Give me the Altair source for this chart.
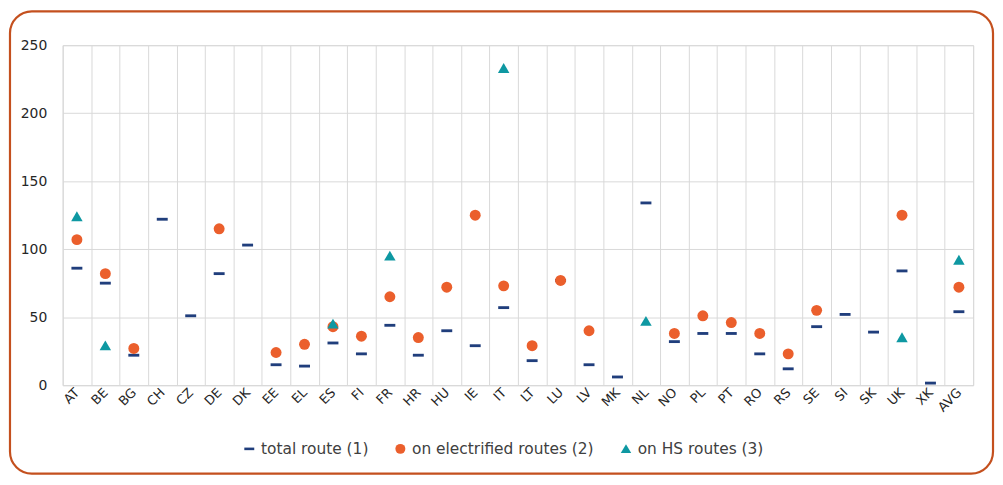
import altair as alt
import pandas as pd

categories = ["AT", "BE", "BG", "CH", "CZ", "DE", "DK", "EE", "EL", "ES", "FI", "FR", "HR", "HU", "IE",
              "IT", "LT", "LU", "LV", "MK", "NL", "NO", "PL", "PT", "RO", "RS", "SE", "SI", "SK", "UK",
              "XK", "AVG"]
total_route = [86, 75, 22, 122, 51, 82, 103, 15, 14, 31, 23, 44, 22, 40, 29,
               57, 18, 77, 15, 6, 134, 32, 38, 38, 23, 12, 43, 52, 39, 84,
               1.5, 54]
electrified = [107, 82, 27, None, None, 115, None, 24, 30, 43, 36, 65, 35, 72, 125,
               73, 29, 77, 40, None, None, 38, 51, 46, 38, 23, 55, None, None, 125,
               None, 72]
hs_routes = [124, 29, None, None, None, None, None, None, None, 45, None, 95, None, None, None,
             233, None, None, None, None, 47, None, None, None, None, None, None, None, None, 35,
             None, 92]

series_names = ["total route (1)", "on electrified routes (2)", "on HS routes (3)"]
series_colors = ["#203E7C", "#EB5F2C", "#0E98A2"]
series_shapes = ["M-1,-0.26L1,-0.26L1,0.26L-1,0.26Z", "circle", "M0,-0.95L1.05,0.85L-1.05,0.85Z"]

rows = []
for name, vals in zip(series_names, [total_route, electrified, hs_routes]):
    for i, (c, v) in enumerate(zip(categories, vals)):
        if v is not None:
            rows.append({"country": c, "value": v, "series": name, "order": len(rows)})
df = pd.DataFrame(rows)

legend_kw = dict(title=None, orient="none", direction="horizontal",
                 legendX=180, legendY=398, labelFontSize=15.5, labelLimit=400,
                 symbolSize=100, labelOffset=4, columnPadding=24,
                 padding=0, labelColor="#404040")

points = alt.Chart(df).mark_point(filled=True, size=121, opacity=1, strokeWidth=0).encode(
    x=alt.X("country:N", sort=categories, bandPosition=0.5,
            scale=alt.Scale(type="band", paddingInner=0, paddingOuter=0),
            axis=alt.Axis(title=None, labelAngle=-45, tickBand="extent", ticks=False,
                          labelAlign="right", labelBaseline="middle", labelPadding=5,
                          labelFontSize=13, domainColor="#D9D9D9", gridColor="#D9D9D9",
                          grid=True)),
    y=alt.Y("value:Q", scale=alt.Scale(domain=[0, 250], nice=False),
            axis=alt.Axis(title=None, values=[0, 50, 100, 150, 200, 250], ticks=False,
                          domain=False, labelPadding=16, labelFontSize=14,
                          gridColor="#D9D9D9")),
    color=alt.Color("series:N", sort=series_names,
                    scale=alt.Scale(domain=series_names, range=series_colors),
                    legend=alt.Legend(**legend_kw)),
    shape=alt.Shape("series:N", sort=series_names,
                    scale=alt.Scale(domain=series_names, range=series_shapes),
                    legend=alt.Legend(**legend_kw)),
    order=alt.Order("order:Q"),
)

frame = alt.Chart(pd.DataFrame({"k": [0]})).mark_rect(
    fill=None, stroke="#C4501E", strokeWidth=2.2, cornerRadius=22, clip=False
).encode(
    x=alt.value(-53), x2=alt.value(936), y=alt.value(-34), y2=alt.value(431)
)

chart = alt.layer(points, frame).properties(
    width=916, height=342,
    autosize=alt.AutoSizeParams(type="none"),
    padding={"left": 55, "top": 36, "right": 22, "bottom": 91},
).configure_view(
    stroke="#D9D9D9", strokeWidth=1
).configure_axis(
    labelFont="DejaVu Sans", labelColor="#262626"
).configure_legend(
    labelFont="DejaVu Sans"
)

chart.save("out.html", embed_options={"renderer": "svg", "actions": False})
